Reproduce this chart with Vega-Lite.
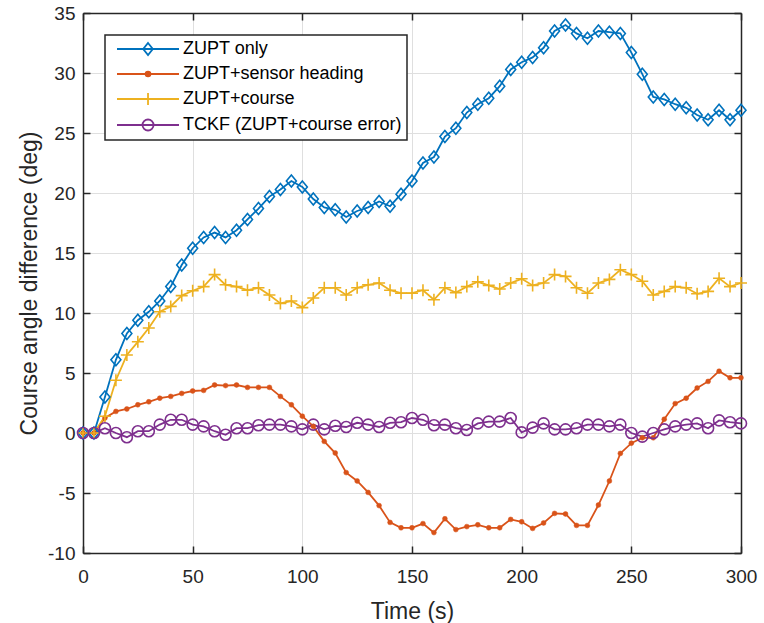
{
  "$schema": "https://vega.github.io/schema/vega-lite/v6.json",
  "width": 658,
  "height": 540,
  "autosize": {"type": "none"},
  "padding": {"left": 83, "top": 13, "right": 23, "bottom": 70},
  "background": "white",
  "config": {
    "view": {"stroke": null},
    "font": "Liberation Sans",
    "axis": {
      "domainColor": "#262626", "domainWidth": 1.5,
      "tickColor": "#262626", "tickWidth": 1.5, "tickSize": -7,
      "labelFont": "Liberation Sans", "labelFontSize": 19, "labelColor": "#262626",
      "titleFont": "Liberation Sans", "titleFontSize": 23, "titleColor": "#262626", "titleFontWeight": "normal",
      "gridColor": "#dfdfdf", "gridWidth": 1
    }
  },
  "data": {"values": [
    {"t":0,"v":0,"s":"ZUPT only"},{"t":5,"v":0,"s":"ZUPT only"},{"t":10,"v":3.0,"s":"ZUPT only"},{"t":15,"v":6.1,"s":"ZUPT only"},{"t":20,"v":8.3,"s":"ZUPT only"},{"t":25,"v":9.4,"s":"ZUPT only"},{"t":30,"v":10.1,"s":"ZUPT only"},{"t":35,"v":11.0,"s":"ZUPT only"},{"t":40,"v":12.2,"s":"ZUPT only"},{"t":45,"v":14.0,"s":"ZUPT only"},{"t":50,"v":15.4,"s":"ZUPT only"},{"t":55,"v":16.3,"s":"ZUPT only"},{"t":60,"v":16.7,"s":"ZUPT only"},{"t":65,"v":16.3,"s":"ZUPT only"},{"t":70,"v":16.9,"s":"ZUPT only"},{"t":75,"v":17.8,"s":"ZUPT only"},{"t":80,"v":18.7,"s":"ZUPT only"},{"t":85,"v":19.7,"s":"ZUPT only"},{"t":90,"v":20.3,"s":"ZUPT only"},{"t":95,"v":21.0,"s":"ZUPT only"},{"t":100,"v":20.5,"s":"ZUPT only"},{"t":105,"v":19.5,"s":"ZUPT only"},{"t":110,"v":18.8,"s":"ZUPT only"},{"t":115,"v":18.6,"s":"ZUPT only"},{"t":120,"v":18.0,"s":"ZUPT only"},{"t":125,"v":18.5,"s":"ZUPT only"},{"t":130,"v":18.8,"s":"ZUPT only"},{"t":135,"v":19.3,"s":"ZUPT only"},{"t":140,"v":18.9,"s":"ZUPT only"},{"t":145,"v":19.9,"s":"ZUPT only"},{"t":150,"v":21.0,"s":"ZUPT only"},{"t":155,"v":22.5,"s":"ZUPT only"},{"t":160,"v":23.0,"s":"ZUPT only"},{"t":165,"v":24.7,"s":"ZUPT only"},{"t":170,"v":25.4,"s":"ZUPT only"},{"t":175,"v":26.7,"s":"ZUPT only"},{"t":180,"v":27.4,"s":"ZUPT only"},{"t":185,"v":27.9,"s":"ZUPT only"},{"t":190,"v":28.9,"s":"ZUPT only"},{"t":195,"v":30.3,"s":"ZUPT only"},{"t":200,"v":30.9,"s":"ZUPT only"},{"t":205,"v":31.3,"s":"ZUPT only"},{"t":210,"v":32.1,"s":"ZUPT only"},{"t":215,"v":33.5,"s":"ZUPT only"},{"t":220,"v":34.0,"s":"ZUPT only"},{"t":225,"v":33.3,"s":"ZUPT only"},{"t":230,"v":32.9,"s":"ZUPT only"},{"t":235,"v":33.5,"s":"ZUPT only"},{"t":240,"v":33.4,"s":"ZUPT only"},{"t":245,"v":33.3,"s":"ZUPT only"},{"t":250,"v":31.7,"s":"ZUPT only"},{"t":255,"v":29.9,"s":"ZUPT only"},{"t":260,"v":28.0,"s":"ZUPT only"},{"t":265,"v":27.8,"s":"ZUPT only"},{"t":270,"v":27.4,"s":"ZUPT only"},{"t":275,"v":27.1,"s":"ZUPT only"},{"t":280,"v":26.5,"s":"ZUPT only"},{"t":285,"v":26.1,"s":"ZUPT only"},{"t":290,"v":26.9,"s":"ZUPT only"},{"t":295,"v":26.1,"s":"ZUPT only"},{"t":300,"v":26.9,"s":"ZUPT only"},
    {"t":0,"v":0,"s":"ZUPT+sensor heading"},{"t":5,"v":0,"s":"ZUPT+sensor heading"},{"t":10,"v":1.25,"s":"ZUPT+sensor heading"},{"t":15,"v":1.8,"s":"ZUPT+sensor heading"},{"t":20,"v":2.0,"s":"ZUPT+sensor heading"},{"t":25,"v":2.35,"s":"ZUPT+sensor heading"},{"t":30,"v":2.6,"s":"ZUPT+sensor heading"},{"t":35,"v":2.9,"s":"ZUPT+sensor heading"},{"t":40,"v":3.05,"s":"ZUPT+sensor heading"},{"t":45,"v":3.3,"s":"ZUPT+sensor heading"},{"t":50,"v":3.5,"s":"ZUPT+sensor heading"},{"t":55,"v":3.55,"s":"ZUPT+sensor heading"},{"t":60,"v":4.0,"s":"ZUPT+sensor heading"},{"t":65,"v":3.95,"s":"ZUPT+sensor heading"},{"t":70,"v":4.0,"s":"ZUPT+sensor heading"},{"t":75,"v":3.8,"s":"ZUPT+sensor heading"},{"t":80,"v":3.8,"s":"ZUPT+sensor heading"},{"t":85,"v":3.8,"s":"ZUPT+sensor heading"},{"t":90,"v":3.05,"s":"ZUPT+sensor heading"},{"t":95,"v":2.35,"s":"ZUPT+sensor heading"},{"t":100,"v":1.4,"s":"ZUPT+sensor heading"},{"t":105,"v":0.55,"s":"ZUPT+sensor heading"},{"t":110,"v":-0.7,"s":"ZUPT+sensor heading"},{"t":115,"v":-1.67,"s":"ZUPT+sensor heading"},{"t":120,"v":-3.3,"s":"ZUPT+sensor heading"},{"t":125,"v":-4.0,"s":"ZUPT+sensor heading"},{"t":130,"v":-4.95,"s":"ZUPT+sensor heading"},{"t":135,"v":-6.05,"s":"ZUPT+sensor heading"},{"t":140,"v":-7.45,"s":"ZUPT+sensor heading"},{"t":145,"v":-7.9,"s":"ZUPT+sensor heading"},{"t":150,"v":-7.9,"s":"ZUPT+sensor heading"},{"t":155,"v":-7.55,"s":"ZUPT+sensor heading"},{"t":160,"v":-8.3,"s":"ZUPT+sensor heading"},{"t":165,"v":-7.15,"s":"ZUPT+sensor heading"},{"t":170,"v":-8.05,"s":"ZUPT+sensor heading"},{"t":175,"v":-7.8,"s":"ZUPT+sensor heading"},{"t":180,"v":-7.65,"s":"ZUPT+sensor heading"},{"t":185,"v":-7.9,"s":"ZUPT+sensor heading"},{"t":190,"v":-7.9,"s":"ZUPT+sensor heading"},{"t":195,"v":-7.2,"s":"ZUPT+sensor heading"},{"t":200,"v":-7.4,"s":"ZUPT+sensor heading"},{"t":205,"v":-7.95,"s":"ZUPT+sensor heading"},{"t":210,"v":-7.5,"s":"ZUPT+sensor heading"},{"t":215,"v":-6.7,"s":"ZUPT+sensor heading"},{"t":220,"v":-6.75,"s":"ZUPT+sensor heading"},{"t":225,"v":-7.7,"s":"ZUPT+sensor heading"},{"t":230,"v":-7.7,"s":"ZUPT+sensor heading"},{"t":235,"v":-6.0,"s":"ZUPT+sensor heading"},{"t":240,"v":-4.0,"s":"ZUPT+sensor heading"},{"t":245,"v":-1.7,"s":"ZUPT+sensor heading"},{"t":250,"v":-0.85,"s":"ZUPT+sensor heading"},{"t":255,"v":-0.4,"s":"ZUPT+sensor heading"},{"t":260,"v":-0.4,"s":"ZUPT+sensor heading"},{"t":265,"v":1.15,"s":"ZUPT+sensor heading"},{"t":270,"v":2.45,"s":"ZUPT+sensor heading"},{"t":275,"v":2.9,"s":"ZUPT+sensor heading"},{"t":280,"v":3.75,"s":"ZUPT+sensor heading"},{"t":285,"v":4.3,"s":"ZUPT+sensor heading"},{"t":290,"v":5.15,"s":"ZUPT+sensor heading"},{"t":295,"v":4.6,"s":"ZUPT+sensor heading"},{"t":300,"v":4.6,"s":"ZUPT+sensor heading"},
    {"t":0,"v":0,"s":"ZUPT+course"},{"t":5,"v":0,"s":"ZUPT+course"},{"t":10,"v":1.4,"s":"ZUPT+course"},{"t":15,"v":4.4,"s":"ZUPT+course"},{"t":20,"v":6.5,"s":"ZUPT+course"},{"t":25,"v":7.6,"s":"ZUPT+course"},{"t":30,"v":8.75,"s":"ZUPT+course"},{"t":35,"v":10.1,"s":"ZUPT+course"},{"t":40,"v":10.55,"s":"ZUPT+course"},{"t":45,"v":11.45,"s":"ZUPT+course"},{"t":50,"v":11.85,"s":"ZUPT+course"},{"t":55,"v":12.2,"s":"ZUPT+course"},{"t":60,"v":13.2,"s":"ZUPT+course"},{"t":65,"v":12.35,"s":"ZUPT+course"},{"t":70,"v":12.2,"s":"ZUPT+course"},{"t":75,"v":11.9,"s":"ZUPT+course"},{"t":80,"v":12.1,"s":"ZUPT+course"},{"t":85,"v":11.5,"s":"ZUPT+course"},{"t":90,"v":10.8,"s":"ZUPT+course"},{"t":95,"v":11.0,"s":"ZUPT+course"},{"t":100,"v":10.45,"s":"ZUPT+course"},{"t":105,"v":11.25,"s":"ZUPT+course"},{"t":110,"v":12.1,"s":"ZUPT+course"},{"t":115,"v":12.1,"s":"ZUPT+course"},{"t":120,"v":11.5,"s":"ZUPT+course"},{"t":125,"v":12.1,"s":"ZUPT+course"},{"t":130,"v":12.35,"s":"ZUPT+course"},{"t":135,"v":12.5,"s":"ZUPT+course"},{"t":140,"v":11.9,"s":"ZUPT+course"},{"t":145,"v":11.65,"s":"ZUPT+course"},{"t":150,"v":11.65,"s":"ZUPT+course"},{"t":155,"v":11.9,"s":"ZUPT+course"},{"t":160,"v":11.1,"s":"ZUPT+course"},{"t":165,"v":12.1,"s":"ZUPT+course"},{"t":170,"v":11.7,"s":"ZUPT+course"},{"t":175,"v":12.2,"s":"ZUPT+course"},{"t":180,"v":12.6,"s":"ZUPT+course"},{"t":185,"v":12.3,"s":"ZUPT+course"},{"t":190,"v":12.0,"s":"ZUPT+course"},{"t":195,"v":12.5,"s":"ZUPT+course"},{"t":200,"v":12.85,"s":"ZUPT+course"},{"t":205,"v":12.3,"s":"ZUPT+course"},{"t":210,"v":12.5,"s":"ZUPT+course"},{"t":215,"v":13.2,"s":"ZUPT+course"},{"t":220,"v":13.05,"s":"ZUPT+course"},{"t":225,"v":12.1,"s":"ZUPT+course"},{"t":230,"v":11.65,"s":"ZUPT+course"},{"t":235,"v":12.5,"s":"ZUPT+course"},{"t":240,"v":12.8,"s":"ZUPT+course"},{"t":245,"v":13.6,"s":"ZUPT+course"},{"t":250,"v":13.2,"s":"ZUPT+course"},{"t":255,"v":12.65,"s":"ZUPT+course"},{"t":260,"v":11.5,"s":"ZUPT+course"},{"t":265,"v":11.8,"s":"ZUPT+course"},{"t":270,"v":12.2,"s":"ZUPT+course"},{"t":275,"v":12.1,"s":"ZUPT+course"},{"t":280,"v":11.6,"s":"ZUPT+course"},{"t":285,"v":11.8,"s":"ZUPT+course"},{"t":290,"v":12.9,"s":"ZUPT+course"},{"t":295,"v":12.2,"s":"ZUPT+course"},{"t":300,"v":12.5,"s":"ZUPT+course"},
    {"t":0,"v":0,"s":"TCKF (ZUPT+course error)"},{"t":5,"v":0,"s":"TCKF (ZUPT+course error)"},{"t":10,"v":0.4,"s":"TCKF (ZUPT+course error)"},{"t":15,"v":0.0,"s":"TCKF (ZUPT+course error)"},{"t":20,"v":-0.35,"s":"TCKF (ZUPT+course error)"},{"t":25,"v":0.15,"s":"TCKF (ZUPT+course error)"},{"t":30,"v":0.15,"s":"TCKF (ZUPT+course error)"},{"t":35,"v":0.7,"s":"TCKF (ZUPT+course error)"},{"t":40,"v":1.1,"s":"TCKF (ZUPT+course error)"},{"t":45,"v":1.1,"s":"TCKF (ZUPT+course error)"},{"t":50,"v":0.7,"s":"TCKF (ZUPT+course error)"},{"t":55,"v":0.55,"s":"TCKF (ZUPT+course error)"},{"t":60,"v":0.15,"s":"TCKF (ZUPT+course error)"},{"t":65,"v":-0.15,"s":"TCKF (ZUPT+course error)"},{"t":70,"v":0.4,"s":"TCKF (ZUPT+course error)"},{"t":75,"v":0.4,"s":"TCKF (ZUPT+course error)"},{"t":80,"v":0.65,"s":"TCKF (ZUPT+course error)"},{"t":85,"v":0.7,"s":"TCKF (ZUPT+course error)"},{"t":90,"v":0.7,"s":"TCKF (ZUPT+course error)"},{"t":95,"v":0.55,"s":"TCKF (ZUPT+course error)"},{"t":100,"v":0.3,"s":"TCKF (ZUPT+course error)"},{"t":105,"v":0.7,"s":"TCKF (ZUPT+course error)"},{"t":110,"v":0.3,"s":"TCKF (ZUPT+course error)"},{"t":115,"v":0.6,"s":"TCKF (ZUPT+course error)"},{"t":120,"v":0.5,"s":"TCKF (ZUPT+course error)"},{"t":125,"v":0.85,"s":"TCKF (ZUPT+course error)"},{"t":130,"v":0.7,"s":"TCKF (ZUPT+course error)"},{"t":135,"v":0.5,"s":"TCKF (ZUPT+course error)"},{"t":140,"v":0.85,"s":"TCKF (ZUPT+course error)"},{"t":145,"v":0.9,"s":"TCKF (ZUPT+course error)"},{"t":150,"v":1.25,"s":"TCKF (ZUPT+course error)"},{"t":155,"v":1.1,"s":"TCKF (ZUPT+course error)"},{"t":160,"v":0.65,"s":"TCKF (ZUPT+course error)"},{"t":165,"v":0.7,"s":"TCKF (ZUPT+course error)"},{"t":170,"v":0.4,"s":"TCKF (ZUPT+course error)"},{"t":175,"v":0.25,"s":"TCKF (ZUPT+course error)"},{"t":180,"v":0.8,"s":"TCKF (ZUPT+course error)"},{"t":185,"v":0.95,"s":"TCKF (ZUPT+course error)"},{"t":190,"v":0.95,"s":"TCKF (ZUPT+course error)"},{"t":195,"v":1.25,"s":"TCKF (ZUPT+course error)"},{"t":200,"v":0.05,"s":"TCKF (ZUPT+course error)"},{"t":205,"v":0.45,"s":"TCKF (ZUPT+course error)"},{"t":210,"v":0.8,"s":"TCKF (ZUPT+course error)"},{"t":215,"v":0.3,"s":"TCKF (ZUPT+course error)"},{"t":220,"v":0.3,"s":"TCKF (ZUPT+course error)"},{"t":225,"v":0.4,"s":"TCKF (ZUPT+course error)"},{"t":230,"v":0.7,"s":"TCKF (ZUPT+course error)"},{"t":235,"v":0.7,"s":"TCKF (ZUPT+course error)"},{"t":240,"v":0.55,"s":"TCKF (ZUPT+course error)"},{"t":245,"v":0.7,"s":"TCKF (ZUPT+course error)"},{"t":250,"v":0.0,"s":"TCKF (ZUPT+course error)"},{"t":255,"v":-0.3,"s":"TCKF (ZUPT+course error)"},{"t":260,"v":0.0,"s":"TCKF (ZUPT+course error)"},{"t":265,"v":0.3,"s":"TCKF (ZUPT+course error)"},{"t":270,"v":0.55,"s":"TCKF (ZUPT+course error)"},{"t":275,"v":0.7,"s":"TCKF (ZUPT+course error)"},{"t":280,"v":0.8,"s":"TCKF (ZUPT+course error)"},{"t":285,"v":0.4,"s":"TCKF (ZUPT+course error)"},{"t":290,"v":1.05,"s":"TCKF (ZUPT+course error)"},{"t":295,"v":0.9,"s":"TCKF (ZUPT+course error)"},{"t":300,"v":0.8,"s":"TCKF (ZUPT+course error)"}
  ]},
  "encoding": {
    "x": {"field": "t", "type": "quantitative", "scale": {"domain": [0, 300], "nice": false}, "axis": null},
    "y": {"field": "v", "type": "quantitative", "scale": {"domain": [-10, 35], "nice": false}, "axis": null}
  },
  "layer": [
    {
      "mark": {"type": "line", "strokeWidth": 1.8},
      "encoding": {
        "x": {"field": "t", "type": "quantitative",
              "axis": {"orient": "bottom", "values": [0, 50, 100, 150, 200, 250, 300], "labelFlush": false, "labelOverlap": false, "labelPadding": 21, "title": "Time (s)", "titlePadding": 14, "grid": true}},
        "y": {"field": "v", "type": "quantitative",
              "axis": {"orient": "left", "values": [-10, -5, 0, 5, 10, 15, 20, 25, 30, 35], "labelExpr": "'' + datum.value", "labelFlush": false, "labelOverlap": false, "labelPadding": 15, "title": "Course angle difference (deg)", "titlePadding": 6, "grid": true}},
        "color": {"field": "s", "type": "nominal",
                  "scale": {"domain": ["ZUPT only", "ZUPT+sensor heading", "ZUPT+course", "TCKF (ZUPT+course error)"], "range": ["#0072BD", "#D95319", "#EDB120", "#7E2F8E"]},
                  "legend": {
                    "orient": "none", "legendX": 22, "legendY": 22, "title": null,
                    "symbolSize": 144, "symbolStrokeWidth": 1.8, "symbolOffset": 4,
                    "labelFontSize": 18, "labelFont": "Liberation Sans", "labelColor": "#000000", "labelOffset": 51, "labelLimit": 500,
                    "rowPadding": 6, "padding": 5,
                    "strokeColor": "#262626", "fillColor": "#ffffff",
                    "encode": {
                      "legend": {"update": {"strokeWidth": {"value": 1.5}}},
                      "symbols": {"update": {
                        "shape": {"signal": "datum.value === 'ZUPT only' ? 'M-1,0L9.33,0M4.17,-1L4.97,0L4.17,1L3.37,0Z' : datum.value === 'ZUPT+sensor heading' ? 'M-1,0L9.33,0M3.77,0A0.4,0.4,0,1,0,4.57,0A0.4,0.4,0,1,0,3.77,0Z' : datum.value === 'ZUPT+course' ? 'M-1,0L9.33,0M4.17,-1L4.17,1' : 'M-1,0L9.33,0M3.25,0A0.92,0.92,0,1,0,5.09,0A0.92,0.92,0,1,0,3.25,0Z'"},
                        "fill": {"signal": "datum.value === 'ZUPT+sensor heading' ? '#D95319' : 'transparent'"}
                      }}
                    }
                  }}
      }
    },
    {
      "transform": [{"filter": "datum.s === 'ZUPT only'"}],
      "mark": {"type": "point", "shape": "M0,-1L0.83,0L0,1L-0.83,0Z", "size": 144, "strokeWidth": 1.6, "stroke": "#0072BD", "fill": "transparent", "opacity": 1},
      "encoding": {
        "x": {"field": "t", "type": "quantitative",
              "axis": {"orient": "top", "values": [0, 50, 100, 150, 200, 250, 300], "labels": false, "grid": false, "title": null}},
        "y": {"field": "v", "type": "quantitative",
              "axis": {"orient": "right", "values": [-10, -5, 0, 5, 10, 15, 20, 25, 30, 35], "labels": false, "grid": false, "title": null}}
      }
    },
    {
      "transform": [{"filter": "datum.s === 'ZUPT+sensor heading'"}],
      "mark": {"type": "point", "shape": "circle", "size": 24, "strokeWidth": 0.5, "stroke": "#D95319", "fill": "#D95319", "opacity": 1}
    },
    {
      "transform": [{"filter": "datum.s === 'ZUPT+course'"}],
      "mark": {"type": "point", "shape": "M-1,0L1,0M0,-1L0,1", "size": 144, "strokeWidth": 1.6, "stroke": "#EDB120", "fill": "transparent", "opacity": 1}
    },
    {
      "transform": [{"filter": "datum.s === 'TCKF (ZUPT+course error)'"}],
      "mark": {"type": "point", "shape": "circle", "size": 121, "strokeWidth": 1.6, "stroke": "#7E2F8E", "fill": "transparent", "opacity": 1}
    }
  ],
  "resolve": {"axis": {"x": "independent", "y": "independent"}}
}
